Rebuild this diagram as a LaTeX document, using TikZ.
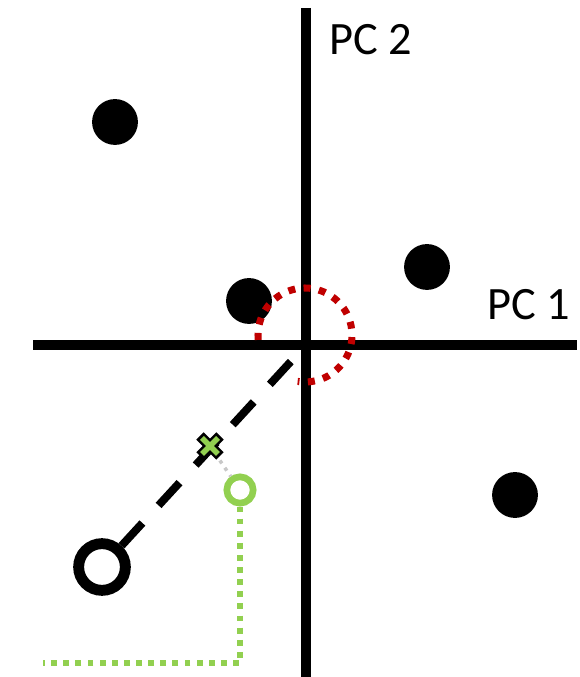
\documentclass[tikz,border=0pt]{standalone}
\usepackage{fontspec}
\newfontfamily\pcfont{Carlito}
\usetikzlibrary{positioning,calc}
\definecolor{rojopc}{RGB}{192,0,0}
\definecolor{verdepc}{RGB}{146,208,80}
\definecolor{grispc}{RGB}{200,200,200}
\tikzset{
  ejepc/.style={line width=5.7pt, black},
  puntopc/.style={circle, fill=black, inner sep=0pt, minimum size=26.1pt},
  anillopc/.style={circle, draw=black, line width=6.2pt, fill=white, inner sep=0pt, minimum size=26.6pt},
  anilloverde/.style={circle, draw=verdepc, line width=3.8pt, fill=white, inner sep=0pt, minimum size=15pt},
  etiquetapc/.style={anchor=base west, inner sep=0pt, font=\pcfont\fontsize{26.4}{30}\selectfont},
}
\begin{document}
\begin{tikzpicture}[x=0.02cm, y=0.02cm]
  \useasboundingbox (0,0) rectangle (579,677);
  % ejes
  \coordinate (origen) at (306,332);
  \draw[ejepc] (306,669) -- (306,0);
  \draw[ejepc] (33,332) -- (577,332);
  \node[etiquetapc] (pc2) at (329,622) {PC 2};
  \node[etiquetapc] (pc1) at (487,357) {PC 1};
  % datos
  \node[puntopc] (d1) at (115,555) {};
  \node[puntopc] (d2) at (249,376) {};
  \node[puntopc] (d3) at (427,410) {};
  \node[puntopc] (d4) at (515,182) {};
  % punto nuevo y su proyeccion
  \node[anillopc] (nuevo) at (102,110) {};
  \draw[line width=4.5pt, dash pattern=on 17.6pt off 13.6pt] (nuevo) -- (origen);
  \draw[rojopc, line width=4pt, dash pattern=on 4pt off 4.8pt] (305,342) ++(186:47) arc[start angle=186, end angle=-99, radius=47];
  \node[anilloverde] (verde) at (240,187) {};
  \coordinate (proy) at (210,231);
  \coordinate (esquina) at (240,14);
  \coordinate (fin) at (43,14);
  \draw[grispc, line width=2pt, dash pattern=on 2pt off 3pt] (proy) -- (verde);
  \draw[verdepc, line width=3.3pt, dash pattern=on 3.3pt off 3.6pt] (verde) -- (esquina) -- (fin);
  \draw[line width=6pt] ($(proy)+(-10,-10)$) -- ($(proy)+(10,10)$) ($(proy)+(-10,10)$) -- ($(proy)+(10,-10)$);
  \draw[verdepc, line width=3.2pt] ($(proy)+(-8,-8)$) -- ($(proy)+(8,8)$) ($(proy)+(-8,8)$) -- ($(proy)+(8,-8)$);
\end{tikzpicture}
\end{document}
